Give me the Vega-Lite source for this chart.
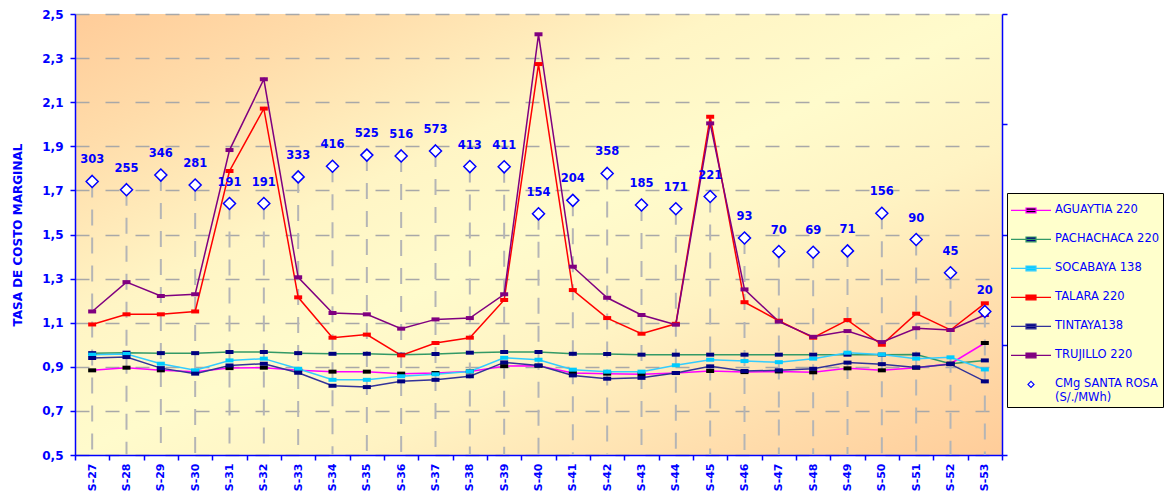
{
  "$schema": "https://vega.github.io/schema/vega-lite/v6.json",
  "width": 927,
  "height": 441,
  "autosize": {"type": "none"},
  "padding": {"left": 75, "top": 14, "right": 165, "bottom": 40},
  "background": "white",
  "config": {
    "font": "DejaVu Sans",
    "view": {
      "stroke": null,
      "fill": {
        "gradient": "linear", "x1": 0, "y1": 0, "x2": 1, "y2": 1,
        "stops": [
          {"offset": 0, "color": "#FFCC99"},
          {"offset": 0.15, "color": "#FFDCAA"},
          {"offset": 0.35, "color": "#FFF5C5"},
          {"offset": 0.5, "color": "#FFFBCC"},
          {"offset": 0.65, "color": "#FFF3C3"},
          {"offset": 0.85, "color": "#FFDCAB"},
          {"offset": 1, "color": "#FFCC99"}
        ]
      }
    }
  },
  "data": {
    "values": [
      {"week": "S-27", "AGUAYTIA 220": 0.884, "PACHACHACA 220": 0.962, "SOCABAYA 138": 0.955, "TALARA 220": 1.092, "TINTAYA138": 0.940, "TRUJILLO 220": 1.151, "cmg": 303},
      {"week": "S-28", "AGUAYTIA 220": 0.896, "PACHACHACA 220": 0.964, "SOCABAYA 138": 0.958, "TALARA 220": 1.138, "TINTAYA138": 0.944, "TRUJILLO 220": 1.284, "cmg": 255},
      {"week": "S-29", "AGUAYTIA 220": 0.884, "PACHACHACA 220": 0.962, "SOCABAYA 138": 0.914, "TALARA 220": 1.138, "TINTAYA138": 0.894, "TRUJILLO 220": 1.221, "cmg": 346},
      {"week": "S-30", "AGUAYTIA 220": 0.878, "PACHACHACA 220": 0.962, "SOCABAYA 138": 0.884, "TALARA 220": 1.151, "TINTAYA138": 0.869, "TRUJILLO 220": 1.229, "cmg": 281},
      {"week": "S-31", "AGUAYTIA 220": 0.894, "PACHACHACA 220": 0.967, "SOCABAYA 138": 0.929, "TALARA 220": 1.788, "TINTAYA138": 0.906, "TRUJILLO 220": 1.883, "cmg": 191},
      {"week": "S-32", "AGUAYTIA 220": 0.896, "PACHACHACA 220": 0.967, "SOCABAYA 138": 0.937, "TALARA 220": 2.071, "TINTAYA138": 0.914, "TRUJILLO 220": 2.204, "cmg": 191},
      {"week": "S-33", "AGUAYTIA 220": 0.884, "PACHACHACA 220": 0.962, "SOCABAYA 138": 0.891, "TALARA 220": 1.215, "TINTAYA138": 0.873, "TRUJILLO 220": 1.306, "cmg": 333},
      {"week": "S-34", "AGUAYTIA 220": 0.878, "PACHACHACA 220": 0.959, "SOCABAYA 138": 0.841, "TALARA 220": 1.032, "TINTAYA138": 0.814, "TRUJILLO 220": 1.144, "cmg": 416},
      {"week": "S-35", "AGUAYTIA 220": 0.878, "PACHACHACA 220": 0.959, "SOCABAYA 138": 0.841, "TALARA 220": 1.046, "TINTAYA138": 0.808, "TRUJILLO 220": 1.138, "cmg": 525},
      {"week": "S-36", "AGUAYTIA 220": 0.869, "PACHACHACA 220": 0.955, "SOCABAYA 138": 0.857, "TALARA 220": 0.952, "TINTAYA138": 0.834, "TRUJILLO 220": 1.073, "cmg": 516},
      {"week": "S-37", "AGUAYTIA 220": 0.872, "PACHACHACA 220": 0.958, "SOCABAYA 138": 0.866, "TALARA 220": 1.008, "TINTAYA138": 0.841, "TRUJILLO 220": 1.115, "cmg": 573},
      {"week": "S-38", "AGUAYTIA 220": 0.879, "PACHACHACA 220": 0.964, "SOCABAYA 138": 0.879, "TALARA 220": 1.032, "TINTAYA138": 0.857, "TRUJILLO 220": 1.121, "cmg": 413},
      {"week": "S-39", "AGUAYTIA 220": 0.903, "PACHACHACA 220": 0.967, "SOCABAYA 138": 0.941, "TALARA 220": 1.203, "TINTAYA138": 0.920, "TRUJILLO 220": 1.229, "cmg": 411},
      {"week": "S-40", "AGUAYTIA 220": 0.905, "PACHACHACA 220": 0.967, "SOCABAYA 138": 0.932, "TALARA 220": 2.273, "TINTAYA138": 0.906, "TRUJILLO 220": 2.408, "cmg": 154},
      {"week": "S-41", "AGUAYTIA 220": 0.872, "PACHACHACA 220": 0.959, "SOCABAYA 138": 0.887, "TALARA 220": 1.248, "TINTAYA138": 0.861, "TRUJILLO 220": 1.354, "cmg": 204},
      {"week": "S-42", "AGUAYTIA 220": 0.869, "PACHACHACA 220": 0.958, "SOCABAYA 138": 0.878, "TALARA 220": 1.121, "TINTAYA138": 0.846, "TRUJILLO 220": 1.213, "cmg": 358},
      {"week": "S-43", "AGUAYTIA 220": 0.866, "PACHACHACA 220": 0.955, "SOCABAYA 138": 0.878, "TALARA 220": 1.050, "TINTAYA138": 0.850, "TRUJILLO 220": 1.135, "cmg": 185},
      {"week": "S-44", "AGUAYTIA 220": 0.872, "PACHACHACA 220": 0.955, "SOCABAYA 138": 0.907, "TALARA 220": 1.095, "TINTAYA138": 0.872, "TRUJILLO 220": 1.091, "cmg": 171},
      {"week": "S-45", "AGUAYTIA 220": 0.881, "PACHACHACA 220": 0.955, "SOCABAYA 138": 0.932, "TALARA 220": 2.034, "TINTAYA138": 0.902, "TRUJILLO 220": 2.004, "cmg": 221},
      {"week": "S-46", "AGUAYTIA 220": 0.876, "PACHACHACA 220": 0.955, "SOCABAYA 138": 0.926, "TALARA 220": 1.193, "TINTAYA138": 0.881, "TRUJILLO 220": 1.251, "cmg": 93},
      {"week": "S-47", "AGUAYTIA 220": 0.879, "PACHACHACA 220": 0.955, "SOCABAYA 138": 0.921, "TALARA 220": 1.109, "TINTAYA138": 0.884, "TRUJILLO 220": 1.105, "cmg": 70},
      {"week": "S-48", "AGUAYTIA 220": 0.875, "PACHACHACA 220": 0.955, "SOCABAYA 138": 0.937, "TALARA 220": 1.032, "TINTAYA138": 0.891, "TRUJILLO 220": 1.036, "cmg": 69},
      {"week": "S-49", "AGUAYTIA 220": 0.893, "PACHACHACA 220": 0.955, "SOCABAYA 138": 0.964, "TALARA 220": 1.112, "TINTAYA138": 0.919, "TRUJILLO 220": 1.062, "cmg": 71},
      {"week": "S-50", "AGUAYTIA 220": 0.884, "PACHACHACA 220": 0.955, "SOCABAYA 138": 0.956, "TALARA 220": 1.000, "TINTAYA138": 0.912, "TRUJILLO 220": 1.012, "cmg": 156},
      {"week": "S-51", "AGUAYTIA 220": 0.896, "PACHACHACA 220": 0.956, "SOCABAYA 138": 0.937, "TALARA 220": 1.141, "TINTAYA138": 0.897, "TRUJILLO 220": 1.075, "cmg": 90},
      {"week": "S-52", "AGUAYTIA 220": 0.914, "PACHACHACA 220": 0.914, "SOCABAYA 138": 0.943, "TALARA 220": 1.067, "TINTAYA138": 0.912, "TRUJILLO 220": 1.067, "cmg": 45},
      {"week": "S-53", "AGUAYTIA 220": 1.008, "PACHACHACA 220": 0.929, "SOCABAYA 138": 0.888, "TALARA 220": 1.188, "TINTAYA138": 0.834, "TRUJILLO 220": 1.135, "cmg": 20}
    ]
  },
  "transform": [
    {"fold": ["AGUAYTIA 220", "PACHACHACA 220", "SOCABAYA 138", "TALARA 220", "TINTAYA138", "TRUJILLO 220", "cmg"], "as": ["series", "value"]}
  ],
  "encoding": {
    "x": {
      "field": "week", "type": "ordinal",
      "scale": {"type": "band", "paddingInner": 0, "paddingOuter": 0},
      "axis": {
        "title": null, "labelAngle": 270, "labelFont": "DejaVu Sans", "labelFontWeight": "bold",
        "labelFontSize": 11, "labelColor": "#0000FF", "labelPadding": 3,
        "domainColor": "#0000FF", "domainWidth": 1.5, "tickColor": "#0000FF", "tickWidth": 1.5,
        "tickSize": 5, "tickBand": "extent", "grid": false
      }
    }
  },
  "layer": [
    {
      "transform": [{"filter": "datum.series == 'cmg'"}],
      "mark": {"type": "rule", "strokeDash": [16, 12], "color": "#B5B5B5", "strokeWidth": 2},
      "encoding": {
        "y": {"field": "value", "type": "quantitative", "scale": {"type": "log", "domain": [1, 10000]}, "axis": null},
        "y2": {"datum": 1}
      }
    },
    {
      "transform": [{"filter": "datum.series != 'cmg'"}],
      "encoding": {
        "y": {
          "field": "value", "type": "quantitative",
          "scale": {"domain": [0.5, 2.5], "nice": false, "zero": false},
          "axis": {
            "title": "TASA DE COSTO MARGINAL", "titleFont": "DejaVu Sans", "titleFontSize": 12,
            "titleFontWeight": "bold", "titleColor": "#0000FF", "titlePadding": 17,
            "values": [0.5, 0.7, 0.9, 1.1, 1.3, 1.5, 1.7, 1.9, 2.1, 2.3, 2.5],
            "labelExpr": "replace(format(datum.value, '.1f'), '.', ',')",
            "labelFont": "DejaVu Sans", "labelFontWeight": "bold", "labelFontSize": 12,
            "labelColor": "#0000FF", "labelPadding": 7,
            "domainColor": "#0000FF", "domainWidth": 1.5, "tickColor": "#0000FF", "tickWidth": 1.5, "tickSize": 5,
            "grid": true, "gridColor": "#A8A8A8", "gridDash": [14, 16], "gridWidth": 1.5
          }
        }
      },
      "layer": [
        {
          "mark": {"type": "line", "strokeWidth": 1.5},
          "encoding": {
            "stroke": {
              "field": "series", "type": "nominal",
              "scale": {"domain": ["AGUAYTIA 220", "PACHACHACA 220", "SOCABAYA 138", "TALARA 220", "TINTAYA138", "TRUJILLO 220", "cmg"],
                        "range": ["#FF00FF", "#339966", "#33CCFF", "#FF0000", "#333399", "#800080", "#0000FF"]},
              "legend": {
                "orient": "none", "legendX": 932, "legendY": 179, "title": null,
                "fillColor": "#FFFFCC", "strokeColor": "#000000", "padding": 3,
                "clipHeight": 28.8, "rowPadding": 0, "symbolSize": 1600, "symbolStrokeWidth": 1.2,
                "labelFont": "DejaVu Sans", "labelFontSize": 11.5, "labelColor": "#0000FF", "labelOffset": 3, "labelLimit": 200,
                "labelExpr": "datum.label == 'cmg' ? ['CMg SANTA ROSA', '(S/./MWh)'] : datum.label",
                "encoding": {"symbols": {"update": {"fill": {"scale": "fill", "field": "value"}, "stroke": {"scale": "stroke", "field": "value"}, "shape": {"scale": "shape", "field": "value"}, "strokeWidth": {"value": 1.2}, "opacity": {"value": 1}}}}
              }
            }
          }
        },
        {
          "mark": {"type": "point", "shape": "M-1,-0.5H1V0.5H-1Z", "size": 64, "filled": true, "opacity": 1, "strokeWidth": 0},
          "encoding": {
            "fill": {
              "field": "series", "type": "nominal",
              "scale": {"domain": ["AGUAYTIA 220", "PACHACHACA 220", "SOCABAYA 138", "TALARA 220", "TINTAYA138", "TRUJILLO 220", "cmg"],
                        "range": ["#000000", "#000080", "#00CCFF", "#FF0000", "#000080", "#800080", "#FFFFFF"]},
              "legend": {
                "orient": "none", "legendX": 932, "legendY": 179, "title": null,
                "fillColor": "#FFFFCC", "strokeColor": "#000000", "padding": 3,
                "clipHeight": 28.8, "rowPadding": 0, "symbolSize": 1600, "symbolStrokeWidth": 1.2,
                "labelFont": "DejaVu Sans", "labelFontSize": 11.5, "labelColor": "#0000FF", "labelOffset": 3, "labelLimit": 200,
                "labelExpr": "datum.label == 'cmg' ? ['CMg SANTA ROSA', '(S/./MWh)'] : datum.label",
                "encoding": {"symbols": {"update": {"fill": {"scale": "fill", "field": "value"}, "stroke": {"scale": "stroke", "field": "value"}, "shape": {"scale": "shape", "field": "value"}, "strokeWidth": {"value": 1.2}, "opacity": {"value": 1}}}}
              }
            }
          }
        }
      ]
    },
    {
      "transform": [{"filter": "datum.series == 'cmg'"}],
      "encoding": {
        "y": {
          "field": "value", "type": "quantitative",
          "scale": {"type": "log", "domain": [1, 10000]},
          "axis": {
            "orient": "right", "title": null, "labels": false, "grid": false,
            "values": [1, 10, 100, 1000, 10000],
            "domainColor": "#0000FF", "domainWidth": 1.5, "tickColor": "#0000FF", "tickWidth": 1.5, "tickSize": 5
          }
        }
      },
      "layer": [
        {
          "mark": {"type": "point", "size": 6400, "filled": true, "opacity": 1, "strokeWidth": 1.5},
          "encoding": {
            "shape": {
              "field": "series", "type": "nominal",
              "scale": {"domain": ["AGUAYTIA 220", "PACHACHACA 220", "SOCABAYA 138", "TALARA 220", "TINTAYA138", "TRUJILLO 220", "cmg"],
                        "range": ["M-1,0H1M-0.25,-0.12H0.25V0.12H-0.25Z", "M-1,0H1M-0.25,-0.12H0.25V0.12H-0.25Z", "M-1,0H1M-0.25,-0.12H0.25V0.12H-0.25Z", "M-1,0H1M-0.25,-0.12H0.25V0.12H-0.25Z", "M-1,0H1M-0.25,-0.12H0.25V0.12H-0.25Z", "M-1,0H1M-0.25,-0.12H0.25V0.12H-0.25Z", "M0,-0.15L0.15,0L0,0.15L-0.15,0Z"]},
              "legend": {
                "orient": "none", "legendX": 932, "legendY": 179, "title": null,
                "fillColor": "#FFFFCC", "strokeColor": "#000000", "padding": 3,
                "clipHeight": 28.8, "rowPadding": 0, "symbolSize": 1600, "symbolStrokeWidth": 1.2,
                "labelFont": "DejaVu Sans", "labelFontSize": 11.5, "labelColor": "#0000FF", "labelOffset": 3, "labelLimit": 200,
                "labelExpr": "datum.label == 'cmg' ? ['CMg SANTA ROSA', '(S/./MWh)'] : datum.label",
                "encoding": {"symbols": {"update": {"fill": {"scale": "fill", "field": "value"}, "stroke": {"scale": "stroke", "field": "value"}, "shape": {"scale": "shape", "field": "value"}, "strokeWidth": {"value": 1.2}, "opacity": {"value": 1}}}}
              }
            },
            "stroke": {"field": "series", "type": "nominal"},
            "fill": {"field": "series", "type": "nominal"}
          }
        },
        {
          "mark": {"type": "text", "dy": -21, "font": "DejaVu Sans", "fontWeight": "bold", "fontSize": 11.5, "color": "#0000FF"},
          "encoding": {"text": {"field": "value", "type": "quantitative"}}
        }
      ]
    }
  ],
  "resolve": {"scale": {"y": "independent"}}
}
